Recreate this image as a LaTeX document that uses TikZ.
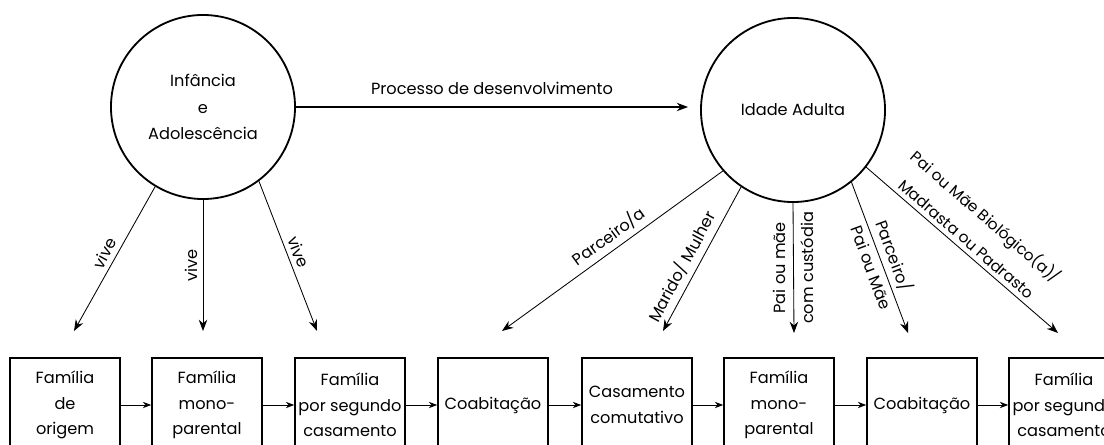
\documentclass[tikz,border=0pt]{standalone}
\usepackage{fontspec}
\setmainfont{Poppins}
\usepackage{tikz}
\usetikzlibrary{arrows.meta}

\begin{document}
\begin{tikzpicture}[x=0.025cm, y=-0.025cm]
\tikzstyle{every node}=[font=\fontsize{11.5}{18}\selectfont]
\tikzstyle{fase}=[draw, circle, line width=1.3pt, minimum size=4.6cm, align=center]
\tikzstyle{familia}=[draw, rectangle, line width=1.1pt, minimum width=2.75cm, minimum height=2.35cm, inner sep=1pt, align=center]
\tikzstyle{seta}=[->, >={Stealth[length=8pt, width=6pt]}, line width=0.6pt]
\tikzstyle{passo}=[->, >={Stealth[length=6pt, width=4.5pt]}, line width=0.6pt]
\useasboundingbox (0,0) rectangle (1104,445);

% fases da vida
\node [fase, font=\fontsize{11.5}{19}\selectfont] (infancia) at (203,107) {Infância\\e\\Adolescência};
\node [fase] (adulta) at (793,110) {Idade Adulta};

% pontas das setas
\coordinate (dev) at (688,107);
\coordinate (v1) at (74,331);
\coordinate (v2) at (203,331);
\coordinate (v3) at (317,331);
\coordinate (a1) at (502,331);
\coordinate (a2) at (663,331);
\coordinate (a3) at (794,333);
\coordinate (a4) at (908,333);
\coordinate (a5) at (1058,333);

% tipos de familia
\node [familia] (f1) at (65,405) {Família\\de\\origem};
\node [familia] (f2) at (207,405) {Família\\mono-\\parental};
\node [familia] (f3) at (350,405) {Família\\por segundo\\casamento};
\node [familia] (f4) at (493,405) {Coabitação};
\node [familia] (f5) at (637,405) {Casamento\\comutativo};
\node [familia] (f6) at (779,405) {Família\\mono-\\parental};
\node [familia] (f7) at (922,405) {Coabitação};
\node [familia] (f8) at (1064,405) {Família\\por segundo\\casamento};

\draw [seta, line width=0.9pt] (infancia.east |- dev) -- (dev) node[midway, above=5pt] {Processo de desenvolvimento};

\draw [seta] (infancia.-121) -- (v1) node[pos=.5, sloped, above] {vive};
\draw [seta] (infancia.-90) -- (v2) node[pos=.5, rotate=90, anchor=south] {vive};
\draw [seta] (infancia.-53) -- (v3) node[pos=.5, sloped, above] {vive};

\draw [seta] (adulta.-139) -- (a1) node[pos=.48, sloped, above] {Parceiro/a};
\draw [seta] (adulta.-124) -- (a2) node[pos=.6, sloped, above] {Marido/ Mulher};
\draw [seta] (adulta.-90) -- (a3) node[pos=.5, rotate=90, anchor=south, inner sep=5pt] {Pai ou mãe} node[pos=.5, rotate=90, anchor=north, inner sep=5pt] {com custódia};
\draw [seta] (adulta.-51) -- (a4) node[pos=.52, sloped, above] {Parceiro/} node[pos=.54, sloped, below] {Pai ou Mãe};
\draw [seta] (adulta.-38) -- (a5) node[pos=.485, sloped, above, align=center, font=\fontsize{11}{21}\selectfont] {Pai ou Mãe Biológico(a)/\\Madrasta ou Padrasto};

\draw [passo] (f1) -- (f2);
\draw [passo] (f2) -- (f3);
\draw [passo] (f3) -- (f4);
\draw [passo] (f4) -- (f5);
\draw [passo] (f5) -- (f6);
\draw [passo] (f6) -- (f7);
\draw [passo] (f7) -- (f8);
\end{tikzpicture}
\end{document}
